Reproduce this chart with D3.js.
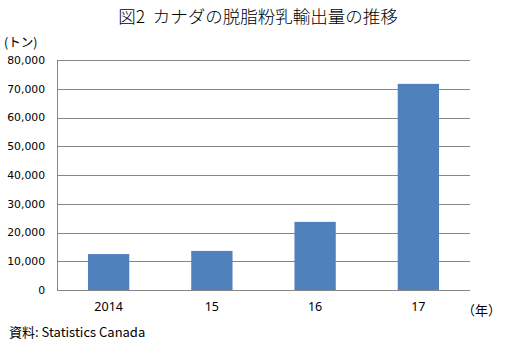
<!DOCTYPE html>
<html>
<head>
<meta charset="utf-8">
<script src="https://cdn.jsdelivr.net/npm/d3@7"></script>
<style>
  body { margin: 0; background: #fff; }
  svg text { fill: #000; }
</style>
</head>
<body>
<div id="chart"></div>
<script>
// data
var years = ["2014", "15", "16", "17"]
var exportsTon = [12500, 13600, 23700, 71700]
var yTicks = [0, 10000, 20000, 30000, 40000, 50000, 60000, 70000, 80000]

var width = 520, height = 354
var margin = {top: 60, right: 50, bottom: 64, left: 57}

var svg = d3.select('#chart').append('svg')
    .attr('width', width)
    .attr('height', height)

var xScale = d3.scaleBand()
    .domain(years)
    .range([margin.left, width - margin.right])
    .paddingInner(0.6)
    .paddingOuter(0.3)

var yScale = d3.scaleLinear()
    .domain([0, 80000])
    .range([height - margin.bottom, margin.top])

var jpFont = "'Noto Sans CJK JP', sans-serif"

// title
svg.append('text')
    .attr('x', 258)
    .attr('y', 23)
    .attr('text-anchor', 'middle')
    .style('font-family', jpFont)
    .style('font-size', '17.5px')
    .style('font-weight', 300)
    .style('white-space', 'pre')
    .text('図2  カナダの脱脂粉乳輸出量の推移')

// unit label
svg.append('text')
    .attr('x', 4)
    .attr('y', 47)
    .style('font-family', jpFont)
    .style('font-size', '12.5px')
    .text('(トン)')

// gridlines
svg.append('g')
    .selectAll('line')
    .data(yTicks)
    .enter().append('line')
    .attr('x1', margin.left)
    .attr('x2', width - margin.right)
    .attr('y1', function(d) { return Math.round(yScale(d)) + 0.5 })
    .attr('y2', function(d) { return Math.round(yScale(d)) + 0.5 })
    .attr('stroke', '#868686')
    .attr('stroke-width', 1)

// y axis
var yAxis = d3.axisLeft(yScale)
    .tickValues(yTicks)
    .tickSize(0)
    .tickPadding(12)
    .tickFormat(d3.format(','))
svg.append('g')
    .attr('transform', 'translate(' + margin.left + ',0)')
    .call(yAxis)
    .call(function(g) { g.select('.domain').attr('stroke', '#868686') })
    .selectAll('text')
    .style('font-family', 'Verdana, DejaVu Sans, sans-serif')
    .style('font-size', '10.8px')

// bars
svg.append('g')
    .selectAll('rect')
    .data(exportsTon)
    .enter().append('rect')
    .attr('x', function(d, i) { return xScale(years[i]) })
    .attr('width', xScale.bandwidth())
    .attr('y', function(d) { return yScale(d) })
    .attr('height', function(d) { return yScale(0) - yScale(d) })
    .attr('fill', '#4F81BD')

// x axis
var xAxis = d3.axisBottom(xScale).tickSize(0).tickPadding(12)
svg.append('g')
    .attr('transform', 'translate(0,' + (height - margin.bottom) + ')')
    .call(xAxis)
    .call(function(g) { g.select('.domain').remove() })
    .selectAll('text')
    .style('font-family', "'Noto Sans', sans-serif")
    .style('font-size', '12.5px')

svg.append('text')
    .attr('x', 462)
    .attr('y', 315)
    .style('font-family', jpFont)
    .style('font-size', '13px')
    .text('（年）')

// source
svg.append('text')
    .attr('x', 9)
    .attr('y', 337)
    .style('font-family', jpFont)
    .style('font-size', '13px')
    .style('white-space', 'pre')
    .text('資料: Statistics Canada')
</script>
</body>
</html>
